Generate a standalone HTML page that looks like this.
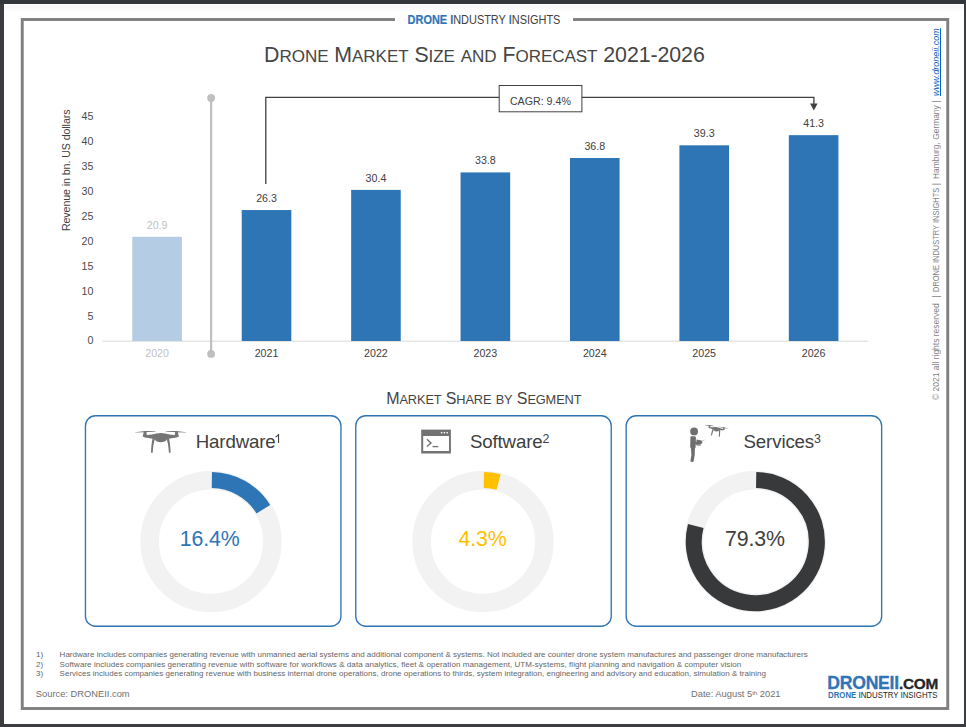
<!DOCTYPE html>
<html><head><meta charset="utf-8"><title>Drone Market Size and Forecast 2021-2026</title>
<style>
html,body{margin:0;padding:0;}
body{width:966px;height:727px;background:#3a3c3f;position:relative;overflow:hidden;font-family:"Liberation Sans", sans-serif;}
#page{position:absolute;left:4px;top:4px;width:960px;height:720px;background:linear-gradient(#fff 0,#f7f7f8 2px,#fafafa 5px,#fff 8px,#fff 100%);}
#topbar{position:absolute;left:0;top:0;width:966px;height:4px;background:#33363a;}
#root{position:absolute;left:0;top:0;width:966px;height:727px;}
svg{position:absolute;left:0;top:0;}
.t{position:absolute;line-height:1;white-space:nowrap;font-family:"Liberation Sans", sans-serif;}
</style></head><body>
<div id="topbar"></div><div id="page"></div>
<div id="root">
<svg width="966" height="727" viewBox="0 0 966 727">
<rect x="22.25" y="19.5" width="925.5" height="689" fill="none" stroke="#7f7f7f" stroke-width="2.9"/>
<rect x="395" y="14" width="178" height="12" fill="#fff"/>
<rect x="102.4" y="340.70" width="765.9" height="1" fill="#d9d9d9"/>
<rect x="132.30" y="236.80" width="49.6" height="104.20" fill="#b4cce4"/>
<rect x="241.72" y="210.05" width="49.6" height="130.95" fill="#2e75b6"/>
<rect x="351.14" y="189.90" width="49.6" height="151.10" fill="#2e75b6"/>
<rect x="460.56" y="172.40" width="49.6" height="168.60" fill="#2e75b6"/>
<rect x="569.98" y="158.00" width="49.6" height="183.00" fill="#2e75b6"/>
<rect x="679.40" y="145.30" width="49.6" height="195.70" fill="#2e75b6"/>
<rect x="788.82" y="135.15" width="49.6" height="205.85" fill="#2e75b6"/>
<rect x="210" y="98" width="2.2" height="256" fill="#bfbfbf"/>
<circle cx="211.1" cy="98" r="3.9" fill="#bfbfbf"/>
<circle cx="211.1" cy="353.9" r="3.9" fill="#bfbfbf"/>
<path d="M265.8 184 V97.4 H813.9 V104" fill="none" stroke="#404040" stroke-width="1.3"/>
<path d="M810.1 103.4 H817.6 L813.85 110.5 Z" fill="#404040"/>
<rect x="499.2" y="85.5" width="82.7" height="26.3" fill="#fff" stroke="#404040" stroke-width="1"/>
<rect x="85.45" y="415.75" width="255.5" height="210.5" rx="10" ry="10" fill="#fff" stroke="#2e75b6" stroke-width="1.35"/>
<circle cx="211.0" cy="541.6" r="61.35" fill="none" stroke="#f2f2f2" stroke-width="18.5"/>
<path d="M211.86 480.06 A61.55 61.55 0 0 1 263.33 509.20" fill="none" stroke="#2e75b6" stroke-width="16.1"/>
<rect x="355.75" y="415.75" width="255.5" height="210.5" rx="10" ry="10" fill="#fff" stroke="#2e75b6" stroke-width="1.35"/>
<circle cx="483.0" cy="541.6" r="61.35" fill="none" stroke="#f2f2f2" stroke-width="18.5"/>
<path d="M483.86 480.06 A61.55 61.55 0 0 1 498.60 482.06" fill="none" stroke="#ffc000" stroke-width="16.1"/>
<rect x="626.15" y="415.75" width="255.5" height="210.5" rx="10" ry="10" fill="#fff" stroke="#2e75b6" stroke-width="1.35"/>
<circle cx="755.3" cy="541.6" r="61.35" fill="none" stroke="#f2f2f2" stroke-width="18.5"/>
<path d="M756.16 480.06 A61.55 61.55 0 1 1 695.76 526.00" fill="none" stroke="#38393b" stroke-width="16.1"/>
<g transform="translate(130,425)" fill="#757575" stroke="none">
<path d="M5.1 7.15 L15.1 6.1 L25.4 6.0 L25.4 6.5 L15.3 7.15 L5.1 7.6 Z"/>
<path d="M35.9 6.0 L46.2 6.1 L56.2 7.15 L56.2 7.6 L46 7.15 L35.9 6.5 Z"/>
<path d="M13.9 6.3 H16.3 L16.8 9.9 C20.5 9.8 23.5 9.3 26.5 8.5 C29.3 7.8 32.3 7.8 35.1 8.5 C38.1 9.3 41.1 9.8 44.8 9.9 L45.3 6.3 H47.7 L48.9 11.5 C47 12.5 44 13.1 40.5 13.4 L37 14.1 C36.3 16.4 33.5 17.2 30.8 17.2 C28.1 17.2 25.3 16.4 24.6 14.1 L21.1 13.4 C17.6 13.1 14.6 12.5 12.7 11.5 Z"/>
<path d="M22.7 13 L24.9 13.9 C23.8 17 23.0 22 22.7 27.7 L21.0 27.7 C21.2 21 21.8 16.5 22.7 13 Z"/>
<path d="M38.9 13 L36.7 13.9 C37.8 17 38.6 22 38.9 27.7 L40.6 27.7 C40.4 21 39.8 16.5 38.9 13 Z"/>
</g>
<g>
<rect x="421.2" y="429.6" width="29.7" height="23.9" fill="#737373"/>
<rect x="423.2" y="436" width="25.8" height="15" fill="#fff"/>
<rect x="440.9" y="432" width="1.4" height="1.4" fill="#fff"/><rect x="443.7" y="432" width="1.4" height="1.4" fill="#fff"/><rect x="446.5" y="432" width="1.4" height="1.4" fill="#fff"/>
<path d="M426.9 439.2 L431 442.9 L426.9 446.6" fill="none" stroke="#737373" stroke-width="1.4"/>
<path d="M432.5 446.6 H438.3" fill="none" stroke="#737373" stroke-width="1.3"/>
</g>
<g fill="#6e6e6e">
<circle cx="694.1" cy="431.4" r="3.9"/>
<path d="M691.2 436.3 H694.8 C695.6 436.3 695.9 437 695.9 438 L695.6 447.6 L694.9 448.5 L694.7 455 L693.6 461.5 C693 462.4 691 462.3 690.4 461.3 L691.4 455 L691 448.5 L690.2 447 L690.4 438 C690.4 437 690.6 436.3 691.2 436.3 Z"/>
<path d="M695 441.5 L699.5 443 L698.8 444.6 L695 444 Z"/>
<path d="M696.5 439.6 L701.5 440.6 L702.6 442.4 L701 444.2 L696.3 443.4 Z" />
<path d="M696.2 443.6 L701 444.6 L700.3 445.9 L696 445.2 Z" opacity=".8"/>
<path d="M701.6 441.2 L704.5 440" stroke="#8a8a8a" stroke-width=".5" fill="none"/>
<g transform="translate(703.3,421.4) rotate(8.6) scale(0.46)" fill="#767676">
<path d="M5.1 6.9 L15 5.9 L25.4 6.2 L25.4 6.9 L15.3 7.8 L5.1 7.6 Z"/>
<path d="M35.9 6.2 L46.2 5.9 L56.2 6.9 L56.2 7.6 L46 7.8 L35.9 6.9 Z"/>
<path d="M14.2 6 H16.2 L17 10.2 C21 10 24 9.4 27 8.4 C29.5 7.7 32 7.7 34.5 8.4 C37.5 9.4 40.5 10 44.4 10.2 L45.2 6 H47.2 L48.8 11.6 C47 12.6 44 13.2 40.5 13.4 L37 14 C36.5 16.5 33.5 17.3 30.7 17.3 C28 17.3 25 16.5 24.5 14 L21 13.4 C17.5 13.2 14.5 12.6 12.7 11.6 Z"/>
<path d="M22.6 13 L25.4 13.8 C24.3 17 23.5 22 23.3 27.6 L20.8 27.6 C21.2 21 21.8 16.5 22.6 13 Z"/>
<path d="M38.9 13 L36.1 13.8 C37.2 17 38 22 38.2 27.6 L40.7 27.6 C40.3 21 39.7 16.5 38.9 13 Z"/>
</g>
</g>
</svg>
<div class="t" style="left:-142.90px;width:600px;text-align:center;top:220.27px;font-size:10.67px;color:#bfbfbf;font-weight:normal;">20.9</div>
<div class="t" style="left:-142.90px;width:600px;text-align:center;top:348.17px;font-size:10.67px;color:#bfbfbf;font-weight:normal;">2020</div>
<div class="t" style="left:-33.48px;width:600px;text-align:center;top:193.07px;font-size:10.67px;color:#404040;font-weight:normal;">26.3</div>
<div class="t" style="left:-33.48px;width:600px;text-align:center;top:348.17px;font-size:10.67px;color:#404040;font-weight:normal;">2021</div>
<div class="t" style="left:75.94px;width:600px;text-align:center;top:172.97px;font-size:10.67px;color:#404040;font-weight:normal;">30.4</div>
<div class="t" style="left:75.94px;width:600px;text-align:center;top:348.17px;font-size:10.67px;color:#404040;font-weight:normal;">2022</div>
<div class="t" style="left:185.36px;width:600px;text-align:center;top:155.07px;font-size:10.67px;color:#404040;font-weight:normal;">33.8</div>
<div class="t" style="left:185.36px;width:600px;text-align:center;top:348.17px;font-size:10.67px;color:#404040;font-weight:normal;">2023</div>
<div class="t" style="left:294.78px;width:600px;text-align:center;top:140.87px;font-size:10.67px;color:#404040;font-weight:normal;">36.8</div>
<div class="t" style="left:294.78px;width:600px;text-align:center;top:348.17px;font-size:10.67px;color:#404040;font-weight:normal;">2024</div>
<div class="t" style="left:404.20px;width:600px;text-align:center;top:127.97px;font-size:10.67px;color:#404040;font-weight:normal;">39.3</div>
<div class="t" style="left:404.20px;width:600px;text-align:center;top:348.17px;font-size:10.67px;color:#404040;font-weight:normal;">2025</div>
<div class="t" style="left:513.62px;width:600px;text-align:center;top:118.07px;font-size:10.67px;color:#404040;font-weight:normal;">41.3</div>
<div class="t" style="left:513.62px;width:600px;text-align:center;top:348.17px;font-size:10.67px;color:#404040;font-weight:normal;">2026</div>
<div class="t" style="left:-206.60px;width:300px;text-align:right;top:335.47px;font-size:10.67px;color:#4a4a4a;font-weight:normal;">0</div>
<div class="t" style="left:-206.60px;width:300px;text-align:right;top:310.57px;font-size:10.67px;color:#4a4a4a;font-weight:normal;">5</div>
<div class="t" style="left:-206.60px;width:300px;text-align:right;top:285.67px;font-size:10.67px;color:#4a4a4a;font-weight:normal;">10</div>
<div class="t" style="left:-206.60px;width:300px;text-align:right;top:260.77px;font-size:10.67px;color:#4a4a4a;font-weight:normal;">15</div>
<div class="t" style="left:-206.60px;width:300px;text-align:right;top:235.87px;font-size:10.67px;color:#4a4a4a;font-weight:normal;">20</div>
<div class="t" style="left:-206.60px;width:300px;text-align:right;top:210.97px;font-size:10.67px;color:#4a4a4a;font-weight:normal;">25</div>
<div class="t" style="left:-206.60px;width:300px;text-align:right;top:186.07px;font-size:10.67px;color:#4a4a4a;font-weight:normal;">30</div>
<div class="t" style="left:-206.60px;width:300px;text-align:right;top:161.17px;font-size:10.67px;color:#4a4a4a;font-weight:normal;">35</div>
<div class="t" style="left:-206.60px;width:300px;text-align:right;top:136.27px;font-size:10.67px;color:#4a4a4a;font-weight:normal;">40</div>
<div class="t" style="left:-206.60px;width:300px;text-align:right;top:111.37px;font-size:10.67px;color:#4a4a4a;font-weight:normal;">45</div>
<div class="t" style="left:240.40px;width:600px;text-align:center;top:95.97px;font-size:10.67px;color:#404040;font-weight:normal;">CAGR: 9.4%</div>
<div class="t" style="left:-90.30px;width:600px;text-align:center;top:528.94px;font-size:21.33px;color:#2e75b6;font-weight:normal;letter-spacing:-0.15px;">16.4%</div>
<div class="t" style="left:195.70px;top:432.80px;font-size:18.67px;color:#404040;font-weight:normal;letter-spacing:-0.12px;">Hardware<svg width="6.2" height="9" viewBox="0 0 6.2 9" style="position:relative;left:0;top:-5.1px;left:-0.4px;overflow:visible"><path d="M3.1 0 H4.1 V8.9 H3 V2 C2.3 2.7 1.4 3.2 0.5 3.5 V2.4 C1.7 1.9 2.6 1 3.1 0 Z" fill="#404040"/></svg></div>
<div class="t" style="left:182.60px;width:600px;text-align:center;top:528.94px;font-size:21.33px;color:#ffc000;font-weight:normal;letter-spacing:-0.15px;">4.3%</div>
<div class="t" style="left:469.90px;top:432.80px;font-size:18.67px;color:#404040;font-weight:normal;letter-spacing:-0.12px;">Software<span style="font-size:12.4px;position:relative;top:-4.9px">2</span></div>
<div class="t" style="left:454.90px;width:600px;text-align:center;top:528.94px;font-size:21.33px;color:#404040;font-weight:normal;letter-spacing:-0.15px;">79.3%</div>
<div class="t" style="left:743.50px;top:432.80px;font-size:18.67px;color:#404040;font-weight:normal;letter-spacing:-0.12px;">Services<span style="font-size:12.4px;position:relative;top:-4.9px">3</span></div>
<div class="t" style="left:184.30px;width:600px;text-align:center;top:14.32px;font-size:12.5px;color:#404040;font-weight:normal;transform:scaleX(0.875);transform-origin:50% 50%;"><span style="color:#2e75b6;font-weight:bold;-webkit-text-stroke:0.2px #2e75b6">DRONE I</span>NDUSTRY <span style="color:#2e75b6;font-weight:bold">I</span>NSIGHTS</div>
<div class="t" style="left:184.40px;width:600px;text-align:center;top:45.14px;font-size:21.33px;color:#454545;font-weight:normal;white-space:nowrap;letter-spacing:-0.07px;">D<span style="font-size:17.07px">RONE</span> M<span style="font-size:17.07px">ARKET</span> S<span style="font-size:17.07px">IZE</span> <span style="font-size:17.07px">AND</span> F<span style="font-size:17.07px">ORECAST</span> 2021-2026</div>
<div class="t" style="left:-84px;top:165.2px;width:300px;text-align:center;font-size:10.67px;color:#404040;letter-spacing:-0.09px;transform:rotate(-90deg);transform-origin:50% 50%;">Revenue in bn. US dollars</div>
<div class="t" style="left:183.80px;width:600px;text-align:center;top:391.36px;font-size:16px;color:#454545;font-weight:normal;letter-spacing:-0.13px;">M<span style="font-size:12.8px">ARKET</span> S<span style="font-size:12.8px">HARE</span> <span style="font-size:12.8px">BY</span> S<span style="font-size:12.8px">EGMENT</span></div>
<div class="t" style="left:36.00px;top:650.83px;font-size:8px;color:#666;font-weight:normal;">1)</div>
<div class="t" style="left:59.60px;top:650.83px;font-size:8px;color:#666;font-weight:normal;white-space:nowrap;letter-spacing:0.0165px;">Hardware includes companies generating revenue with unmanned aerial systems and additional component &amp; systems. Not included are counter drone system manufactures and passenger drone manufacturers</div>
<div class="t" style="left:36.00px;top:660.63px;font-size:8px;color:#666;font-weight:normal;">2)</div>
<div class="t" style="left:59.60px;top:660.63px;font-size:8px;color:#666;font-weight:normal;white-space:nowrap;letter-spacing:0.058px;">Software includes companies generating revenue with software for workflows &amp; data analytics, fleet &amp; operation management, UTM-systems, flight planning and navigation &amp; computer vision</div>
<div class="t" style="left:36.00px;top:670.03px;font-size:8px;color:#666;font-weight:normal;">3)</div>
<div class="t" style="left:59.60px;top:670.03px;font-size:8px;color:#666;font-weight:normal;white-space:nowrap;letter-spacing:0.019px;">Services includes companies generating revenue with business internal drone operations, drone operations to thirds, system integration, engineering and advisory and education, simulation &amp; training</div>
<div class="t" style="left:35.80px;top:689.90px;font-size:9.33px;color:#707070;font-weight:normal;">Source: DRONEII.com</div>
<div class="t" style="left:691.00px;top:689.90px;font-size:9.33px;color:#707070;font-weight:normal;">Date: August 5<span style="font-size:6px;position:relative;top:-1.7px">th</span> 2021</div>
<div class="t" style="left:827.30px;top:674.70px;font-size:17.6px;color:#2e75b6;font-weight:normal;font-weight:bold;white-space:nowrap;letter-spacing:-0.25px;-webkit-text-stroke:0.3px #2e75b6;"><span style="color:#2e75b6">DRONEII</span><span style="color:#262626;font-size:15.4px;-webkit-text-stroke:0.3px #262626">.COM</span></div>
<div class="t" style="left:827.80px;top:691.76px;font-size:8.2px;color:#262626;font-weight:normal;white-space:nowrap;transform:scaleX(0.958);transform-origin:0 50%;"><span style="color:#2e75b6;font-weight:bold">DRONE</span> <span style="color:#2e75b6;font-weight:bold">I</span>NDUSTRY <span style="color:#2e75b6;font-weight:bold">I</span>NSIGHTS</div>
<div id="side" style="position:absolute;left:931.8px;top:401px;width:380px;height:10px;font-size:8.6px;line-height:1;color:#7f7f7f;transform:rotate(-90deg);transform-origin:0 0;"><span style="position:absolute;left:0.7px;top:0;white-space:nowrap;transform:scaleX(0.987);transform-origin:0 50%;">&copy; 2021 all rights reserved</span><span style="position:absolute;left:103.4px;top:0;white-space:nowrap;transform:scaleX(1);transform-origin:0 50%;">|</span><span style="position:absolute;left:108.5px;top:0;white-space:nowrap;transform:scaleX(0.868);transform-origin:0 50%;">DRONE INDUSTRY INSIGHTS</span><span style="position:absolute;left:215.7px;top:0;white-space:nowrap;transform:scaleX(1);transform-origin:0 50%;">|</span><span style="position:absolute;left:221.5px;top:0;white-space:nowrap;transform:scaleX(0.977);transform-origin:0 50%;">Hamburg, Germany</span><span style="position:absolute;left:298.5px;top:0;white-space:nowrap;transform:scaleX(1);transform-origin:0 50%;">|</span><span style="position:absolute;left:304.5px;top:0;white-space:nowrap;transform:scaleX(1.042);transform-origin:0 50%;color:#0563c1;font-style:italic;text-decoration:underline;">www.droneii.com</span></div>
</div>
</body></html>
